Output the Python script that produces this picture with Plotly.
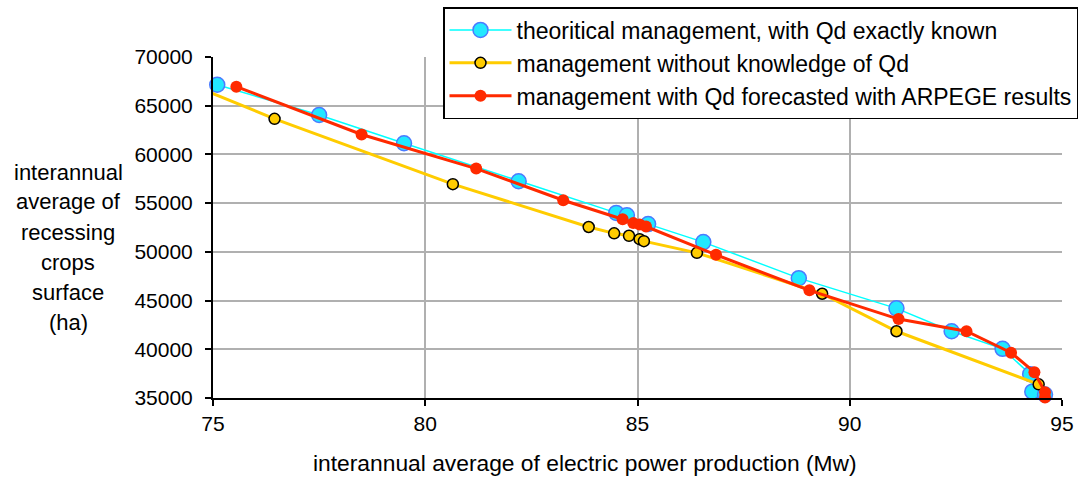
import plotly.graph_objects as go

# ---- data ----
theory_x = [75.1, 77.5, 79.5, 82.2, 84.5, 84.75, 85.25, 86.55, 88.8, 91.1, 92.4, 93.6, 94.25, 94.3, 94.6]
theory_y = [67150, 64050, 61150, 57250, 54000, 53750, 52850, 51000, 47300, 44200, 41850, 40050, 37450, 35650, 35350]

noknow_x = [74.84, 76.45, 80.65, 83.85, 84.45, 84.8, 85.05, 85.15, 86.4, 89.35, 91.1, 94.45]
noknow_y = [66540, 63650, 56950, 52550, 51900, 51650, 51300, 51100, 49900, 45700, 41850, 36400]

arpege_x = [75.55, 78.5, 81.2, 83.25, 84.65, 84.9, 85.05, 85.2, 86.85, 89.05, 91.15, 92.75, 93.8, 94.35, 94.6, 94.6]
arpege_y = [66950, 62050, 58550, 55300, 53350, 52950, 52800, 52600, 49700, 46050, 43100, 41850, 39650, 37650, 35600, 35050]

series_names = [
    "theoritical management, with Qd exactly known",
    "management without knowledge of Qd",
    "management with Qd forecasted with ARPEGE results",
]
x_ticks = [75, 80, 85, 90, 95]
y_ticks = [35000, 40000, 45000, 50000, 55000, 60000, 65000, 70000]
x_title = "interannual average of electric power production (Mw)"
y_title_lines = ["interannual", "average of", "recessing", "crops", "surface", "(ha)"]

FONT = "Liberation Sans, Arial, sans-serif"

fig = go.Figure()
fig.add_trace(go.Scatter(
    x=theory_x, y=theory_y, name=series_names[0], mode="lines+markers",
    line=dict(color="#00FFFF", width=1.5),
    marker=dict(size=15, color="#22E8FF", line=dict(color="#4A7BFF", width=1.5)),
    cliponaxis=False,
))
fig.add_trace(go.Scatter(
    x=noknow_x, y=noknow_y, name=series_names[1], mode="lines+markers",
    line=dict(color="#FFCC00", width=3),
    marker=dict(size=11, color="#FFCC00", line=dict(color="#000000", width=1.5)),
))
fig.add_trace(go.Scatter(
    x=arpege_x, y=arpege_y, name=series_names[2], mode="lines+markers",
    line=dict(color="#FF2A00", width=3),
    marker=dict(size=12, color="#FF2A00"),
    cliponaxis=False,
))

# y title lines as annotations
ann = []
for i, t in enumerate(y_title_lines):
    ann.append(dict(
        text=t, xref="paper", yref="paper",
        x=(68 - 213) / 849, y=(398 - (172 + i * 30)) / 341,
        xanchor="center", yanchor="middle", showarrow=False,
        font=dict(family=FONT, size=22, color="#000000"),
    ))
ann.append(dict(
    text=x_title, xref="paper", yref="paper",
    x=(585 - 213) / 849, y=(398 - 463) / 341,
    xanchor="center", yanchor="middle", showarrow=False,
    font=dict(family=FONT, size=22.8, color="#000000"),
))

fig.update_layout(
    width=1086, height=478,
    margin=dict(l=213, r=24, t=57, b=80, autoexpand=False),
    paper_bgcolor="white", plot_bgcolor="white",
    font=dict(family=FONT, size=21, color="#000000"),
    showlegend=True,
    legend=dict(
        x=(443 - 213) / 849, y=(398 - 7) / 341, xanchor="left", yanchor="top",
        bgcolor="white", bordercolor="#000000", borderwidth=1.5,
        font=dict(family=FONT, size=23, color="#000000"),
        itemwidth=62, traceorder="normal",
    ),
    annotations=ann,
)
fig.update_xaxes(
    range=[75, 95], tickvals=x_ticks, ticktext=[str(v) for v in x_ticks],
    showgrid=True, gridcolor="#B0B0B0", gridwidth=1.5,
    showline=True, linecolor="#000000", linewidth=2,
    ticks="outside", ticklen=6, tickcolor="#000000", tickwidth=1.5,
    zeroline=False, tickfont=dict(family=FONT, size=21),
)
fig.update_yaxes(
    range=[35000, 70000], tickvals=y_ticks, ticktext=[str(v) for v in y_ticks],
    showgrid=True, gridcolor="#B0B0B0", gridwidth=1.5,
    showline=True, linecolor="#000000", linewidth=2,
    ticks="outside", ticklen=6, tickcolor="#000000", tickwidth=1.5,
    zeroline=False, tickfont=dict(family=FONT, size=21),
    ticklabelstandoff=8,
)

fig.write_html("out.html")
